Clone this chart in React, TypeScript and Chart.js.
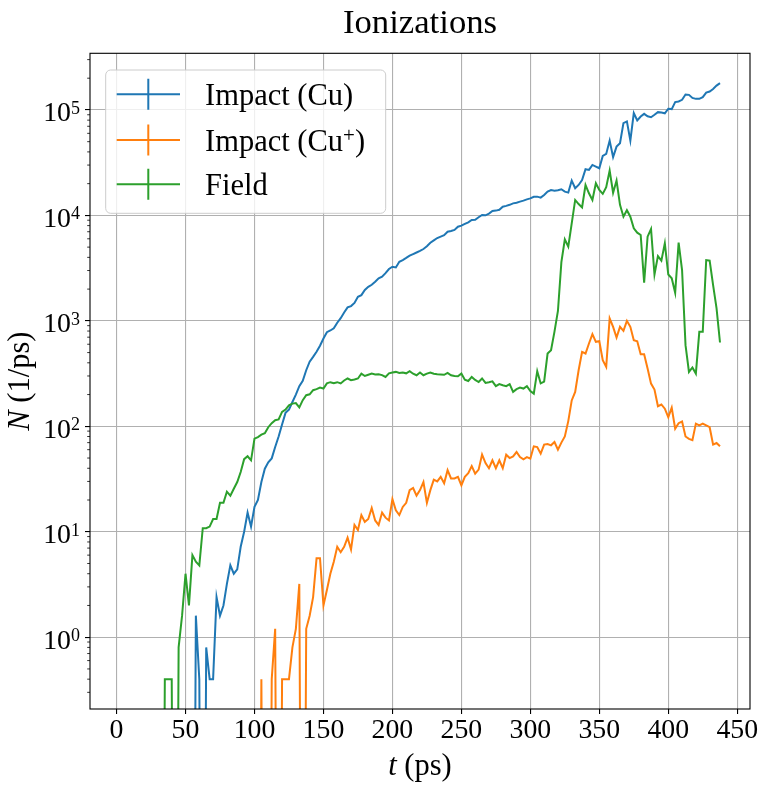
import { useEffect, useRef } from 'react';
import { Chart, registerables } from 'chart.js';

Chart.register(...registerables);

const W = 767;
const H = 789;
const SERIF = '"Liberation Serif", "DejaVu Serif", serif';

// bin centres (ps), 2.5 ps bins
const T = [
  2.5, 5, 7.5, 10, 12.5, 15, 17.5, 20, 22.5, 25,
  27.5, 30, 32.5, 35, 37.5, 40, 42.5, 45, 47.5, 50,
  52.5, 55, 57.5, 60, 62.5, 65, 67.5, 70, 72.5, 75,
  77.5, 80, 82.5, 85, 87.5, 90, 92.5, 95, 97.5, 100,
  102.5, 105, 107.5, 110, 112.5, 115, 117.5, 120, 122.5, 125,
  127.5, 130, 132.5, 135, 137.5, 140, 142.5, 145, 147.5, 150,
  152.5, 155, 157.5, 160, 162.5, 165, 167.5, 170, 172.5, 175,
  177.5, 180, 182.5, 185, 187.5, 190, 192.5, 195, 197.5, 200,
  202.5, 205, 207.5, 210, 212.5, 215, 217.5, 220, 222.5, 225,
  227.5, 230, 232.5, 235, 237.5, 240, 242.5, 245, 247.5, 250,
  252.5, 255, 257.5, 260, 262.5, 265, 267.5, 270, 272.5, 275,
  277.5, 280, 282.5, 285, 287.5, 290, 292.5, 295, 297.5, 300,
  302.5, 305, 307.5, 310, 312.5, 315, 317.5, 320, 322.5, 325,
  327.5, 330, 332.5, 335, 337.5, 340, 342.5, 345, 347.5, 350,
  352.5, 355, 357.5, 360, 362.5, 365, 367.5, 370, 372.5, 375,
  377.5, 380, 382.5, 385, 387.5, 390, 392.5, 395, 397.5, 400,
  402.5, 405, 407.5, 410, 412.5, 415, 417.5, 420, 422.5, 425,
  427.5, 430, 432.5, 435, 437.5,
];

const IMPACT_CU = [
  0, 0, 0, 0, 0, 0, 0, 0, 0, 0,
  0, 0, 0, 0, 0, 0, 0, 0, 0, 0,
  0, 0, 1.6, 0.4, 0, 0.8, 0.4, 0.4, 2.4, 1.6,
  2.0, 3.2, 4.8, 4.0, 4.4, 7.2, 10, 15.2, 11.2, 17.2,
  20, 29.6, 39.6, 45.6, 49.6, 63.6, 80, 104, 134, 144,
  170, 200, 240, 270, 340, 410, 455, 510, 580, 680,
  780, 810, 850, 960, 1060, 1200, 1340, 1380, 1480, 1690,
  1754, 1960, 2100, 2200, 2350, 2530, 2620, 2830, 3100, 3260,
  3210, 3630, 3770, 3950, 4150, 4300, 4450, 4600, 4800, 5100,
  5500, 5800, 6100, 6300, 6500, 7000, 7100, 7270, 7810, 8000,
  8300, 8600, 9040, 9100, 9600, 10090, 10020, 10400, 11010, 11100,
  11300, 12100, 12300, 12600, 13000, 13200, 13500, 13800, 14200, 14500,
  15000, 15060, 14730, 15630, 16800, 17400, 17170, 17300, 17700, 16790,
  16440, 21380, 18090, 19440, 21680, 27400, 26990, 30110, 29040, 28010,
  36640, 38300, 51200, 35640, 44900, 48400, 75000, 77800, 51200, 93300,
  79400, 86500, 91800, 87000, 85300, 90000, 95300, 94600, 93000, 102600,
  101900, 118600, 120200, 124700, 140000, 139000, 130000, 127400, 127400, 132200,
  146200, 149600, 158000, 170000, 179600,
];

const IMPACT_CU_PLUS = [
  0, 0, 0, 0, 0, 0, 0, 0, 0, 0,
  0, 0, 0, 0, 0, 0, 0, 0, 0, 0,
  0, 0, 0, 0, 0, 0, 0, 0, 0, 0,
  0, 0, 0, 0, 0, 0, 0, 0, 0, 0,
  0, 0.4, 0, 0, 0.4, 1.2, 0, 0.4, 0.4, 0.4,
  0.8, 1.2, 3.2, 0, 1.2, 1.6, 2.4, 5.6, 5.6, 2.0,
  2.8, 4.0, 5.2, 7.2, 6.4, 7.2, 8.8, 6.8, 11.6, 10.4,
  14.4, 12.4, 13.2, 16.8, 12.8, 11.6, 15.2, 13.6, 12.8, 20.4,
  16, 14.4, 17.2, 18.8, 24.8, 26, 22, 24.8, 29.6, 18.8,
  24.8, 31.2, 30, 33.2, 28.8, 38.4, 32, 32, 33.2, 27.6,
  33.2, 36, 42, 35.6, 38.8, 54, 44.8, 40, 47.6, 40,
  47.6, 40, 53.8, 50, 51.9, 57, 51.1, 48.6, 51, 49.4,
  64.6, 63.6, 55, 67, 68, 66, 71, 60, 70, 80,
  112, 176, 212, 340, 508, 490, 610, 748, 632, 641,
  424, 366, 1054, 877, 695, 877, 804, 1000, 877, 656,
  641, 483, 483, 353, 254, 223, 155, 161, 147, 122,
  150, 95, 107, 111, 80, 76, 74, 106, 102, 106,
  102, 98, 67, 69.4, 64.6,
];

const FIELD = [
  0, 0, 0, 0, 0, 0, 0, 0, 0, 0,
  0, 0, 0, 0.4, 0.4, 0.4, 0, 0.8, 1.6, 4.0,
  2.0, 6.0, 5.2, 4.8, 10.8, 10.8, 11.2, 13.2, 13.2, 18.8,
  18.8, 24, 22, 25.6, 29.6, 36.8, 48.8, 52, 47.6, 76.4,
  79, 83.4, 86, 98, 107, 114, 116, 137, 144, 158,
  164, 166, 151, 177, 197, 201, 220, 225, 233, 228,
  255, 262, 256, 262, 255, 272, 284, 274, 278, 284,
  316, 300, 308, 316, 310, 312, 306, 294, 318, 324,
  328, 320, 324, 318, 333, 315, 305, 324, 305, 316,
  324, 315, 312, 310, 308, 321, 305, 300, 298, 316,
  277, 269, 294, 275, 263, 284, 258, 262, 267, 240,
  251, 245, 240, 251, 212, 225, 233, 228, 240, 216,
  204, 333, 255, 265, 490, 527, 790, 1240, 3600, 5930,
  5050, 8410, 14000, 12800, 11900, 19400, 16200, 14000, 20200, 17400,
  16000, 18500, 26600, 16400, 21400, 12600, 9720, 11200, 9720, 7550,
  6860, 6510, 2300, 6280, 7430, 2750, 4110, 3720, 5430, 2750,
  2530, 1845, 5510, 3030, 588, 328, 361, 316, 787, 787,
  3770, 3720, 2180, 1312, 623,
];

const SERIES = ['Impact (Cu)', 'Impact (Cu⁺)', 'Field'];
const COLORS = ['#1f77b4', '#ff7f0e', '#2ca02c'];
const X_TICKS = [0, 50, 100, 150, 200, 250, 300, 350, 400, 450];
const Y_DECADES = [0, 1, 2, 3, 4, 5];
const X_MIN = -19.25;
const X_MAX = 459.25;
const Y_MIN = 0.2085;
const Y_MAX = 344400;

// empty bins can't sit on a log axis: park them far below it so the line drops off the bottom
const FLOOR = 1e-6;

type Run = [string, string, number];

function drawRuns(ctx: CanvasRenderingContext2D, runs: Run[], cx: number, y: number) {
  let total = 0;
  for (const [s, f] of runs) { ctx.font = f; total += ctx.measureText(s).width; }
  let x = cx - total / 2;
  ctx.textAlign = 'left';
  for (const [s, f, dy] of runs) {
    ctx.font = f;
    ctx.fillText(s, x, y + dy);
    x += ctx.measureText(s).width;
  }
}

const decor = {
  id: 'decor',
  afterDatasetsDraw(chart: any) {
    const { ctx, chartArea: a } = chart;
    ctx.save();
    ctx.strokeStyle = '#000';
    ctx.lineWidth = 1.1;
    ctx.strokeRect(a.left, a.top, a.right - a.left, a.bottom - a.top);
    ctx.restore();
  },
  afterDraw(chart: any) {
    const { ctx, chartArea: a } = chart;
    const ys = chart.scales.y;
    ctx.save();

    // minor ticks on the log axis
    ctx.strokeStyle = '#000';
    ctx.lineWidth = 0.8;
    for (let n = -1; n <= 5; n++) {
      for (let k = 2; k <= 9; k++) {
        const v = k * Math.pow(10, n);
        if (v < ys.min || v > ys.max) continue;
        const py = ys.getPixelForValue(v);
        ctx.beginPath();
        ctx.moveTo(a.left, py);
        ctx.lineTo(a.left - 2.8, py);
        ctx.stroke();
      }
    }

    // 10^n labels
    ctx.fillStyle = '#000';
    ctx.textBaseline = 'alphabetic';
    const right = a.left - 10;
    for (const n of Y_DECADES) {
      const py = ys.getPixelForValue(Math.pow(10, n));
      const exp = String(n);
      ctx.font = `18px ${SERIF}`;
      const ew = ctx.measureText(exp).width;
      ctx.textAlign = 'left';
      ctx.fillText(exp, right - ew, py + 3.8);
      ctx.font = `27.8px ${SERIF}`;
      ctx.textAlign = 'right';
      ctx.fillText('10', right - ew, py + 11.5);
    }

    const cx = (a.left + a.right) / 2;
    const reg = `30.5px ${SERIF}`;
    const ital = `italic 30.5px ${SERIF}`;

    // title
    ctx.font = `34.7px ${SERIF}`;
    ctx.textAlign = 'center';
    ctx.fillText('Ionizations', cx, 33.3);

    // axis titles
    drawRuns(ctx, [['t', ital, 0], [' (ps)', reg, 0]], cx, 775);
    ctx.save();
    ctx.translate(28.5, (a.top + a.bottom) / 2);
    ctx.rotate(-Math.PI / 2);
    drawRuns(ctx, [['N', ital, 0], [' (1/ps)', reg, 0]], 0, 0);
    ctx.restore();

    // legend
    const bx = 105.7, by = 70, bw = 280, bh = 143.3;
    ctx.beginPath();
    ctx.roundRect(bx, by, bw, bh, 5);
    ctx.fillStyle = 'rgba(255,255,255,0.8)';
    ctx.fill();
    ctx.strokeStyle = '#cccccc';
    ctx.lineWidth = 1;
    ctx.stroke();
    const rows = [94.3, 140, 184.3];
    SERIES.forEach((label, i) => {
      const ry = rows[i];
      ctx.strokeStyle = COLORS[i];
      ctx.lineWidth = 2;
      ctx.beginPath();
      ctx.moveTo(116.7, ry);
      ctx.lineTo(180, ry);
      ctx.moveTo(148.3, ry - 15.5);
      ctx.lineTo(148.3, ry + 15.5);
      ctx.stroke();
      ctx.fillStyle = '#000';
      ctx.textAlign = 'left';
      const parts = label.split('⁺');
      let x = 205;
      ctx.font = reg;
      ctx.fillText(parts[0], x, ry + 10.7);
      x += ctx.measureText(parts[0]).width;
      if (parts.length > 1) {
        ctx.font = `21px ${SERIF}`;
        ctx.fillText('+', x, ry + 10.7 - 8.5);
        x += ctx.measureText('+').width;
        ctx.font = reg;
        ctx.fillText(parts[1], x, ry + 10.7);
      }
    });

    ctx.restore();
  },
};

const pos = (v: number) => (v > 0 ? v : FLOOR);

export default function App() {
  const canvasRef = useRef<HTMLCanvasElement>(null);

  useEffect(() => {
    if (!canvasRef.current) return;
    const grid = { color: '#b0b0b0', lineWidth: 1.1, tickLength: 5, tickColor: '#000', tickWidth: 1.1 };
    const series = [IMPACT_CU, IMPACT_CU_PLUS, FIELD];

    const chart = new Chart(canvasRef.current, {
      type: 'line',
      data: {
        datasets: series.map((vals, i) => ({
          label: SERIES[i],
          data: T.map((t, j) => ({ x: t, y: pos(vals[j]) })),
          borderColor: COLORS[i],
          backgroundColor: COLORS[i],
          borderWidth: 2,
          pointRadius: 0,
          tension: 0,
          fill: false,
          order: 2 - i,
        })),
      },
      options: {
        responsive: false,
        animation: false,
        events: [],
        layout: { padding: { top: 53.3, right: 17, bottom: 0, left: 0 } },
        scales: {
          x: {
            type: 'linear',
            min: X_MIN,
            max: X_MAX,
            bounds: 'data',
            afterBuildTicks: (s: any) => { s.ticks = X_TICKS.map(v => ({ value: v })); },
            afterFit: (s: any) => { s.height = 80; },
            grid,
            border: { display: false },
            ticks: {
              color: '#000',
              font: { family: SERIF, size: 27.8 },
              padding: 0,
              maxRotation: 0,
              autoSkip: false,
              callback: (v: any) => String(v),
            },
          },
          y: {
            type: 'logarithmic',
            min: Y_MIN,
            max: Y_MAX,
            bounds: 'data',
            afterBuildTicks: (s: any) => { s.ticks = Y_DECADES.map(n => ({ value: Math.pow(10, n), major: true })); },
            afterFit: (s: any) => { s.width = 90; },
            grid,
            border: { display: false },
            ticks: { callback: () => '' },
          },
        },
        plugins: {
          legend: { display: false },
          tooltip: { enabled: false },
          title: { display: false },
        },
      },
      plugins: [decor],
    } as any);

    return () => { chart.destroy(); };
  }, []);

  return (
    <div style={{ position: 'absolute', left: 0, top: 0, width: W, height: H, background: '#fff' }}>
      <canvas ref={canvasRef} width={W} height={H} />
    </div>
  );
}
